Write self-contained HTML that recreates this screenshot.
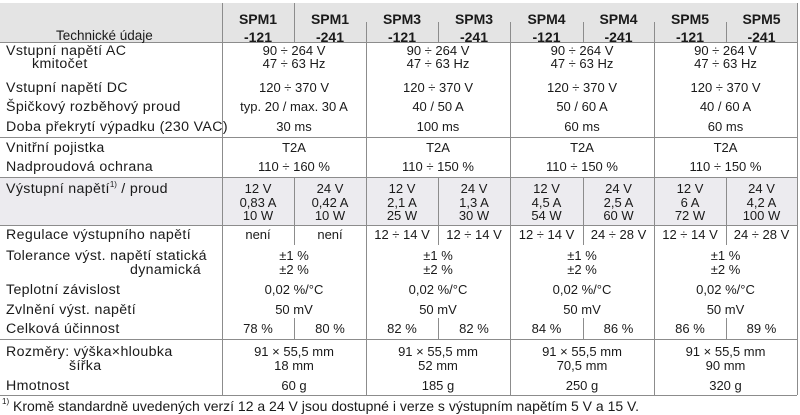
<!DOCTYPE html>
<html><head><meta charset="utf-8"><style>
body{margin:0;width:800px;height:415px;background:#fff;position:relative;overflow:hidden;font-family:"Liberation Sans",Arial,sans-serif;font-size:13px;color:#1a1a1a}
div{position:absolute}
.t{height:16px;line-height:16px;white-space:nowrap;text-align:center}
.o{line-height:13.5px}
.l{height:16px;line-height:16px;white-space:nowrap;left:6px;font-size:14.2px;letter-spacing:0.35px}
.h{background:#8c8c8c;height:1px}
.v{background:#8c8c8c;width:1px}
.b{font-weight:bold;font-size:14px}
sup{font-size:8px;vertical-align:top;line-height:8px;letter-spacing:0}
</style></head><body>
<div style="left:0;top:3px;width:797px;height:39px;background:#e4e4e4"></div>
<div style="left:0;top:177px;width:797px;height:48px;background:#ecebef"></div>

<div class="h" style="left:0;top:42px;width:797px"></div>
<div class="h" style="left:0;top:137px;width:797px"></div>
<div class="h" style="left:0;top:177px;width:797px"></div>
<div class="h" style="left:0;top:225px;width:797px"></div>
<div class="h" style="left:0;top:339px;width:797px"></div>
<div class="h" style="left:0;top:395px;width:797px"></div>

<div class="v" style="left:222px;top:3px;height:392px"></div>
<div class="v" style="left:366px;top:22px;height:373px"></div>
<div class="v" style="left:510px;top:22px;height:373px"></div>
<div class="v" style="left:654px;top:22px;height:373px"></div>
<div class="v" style="left:797px;top:3px;height:392px"></div>
<div class="v" style="left:294px;top:3px;height:39px"></div>
<div class="v" style="left:438px;top:22px;height:20px"></div>
<div class="v" style="left:583px;top:22px;height:20px"></div>
<div class="v" style="left:726px;top:22px;height:20px"></div>
<div class="v" style="left:294px;top:177px;height:68px"></div>
<div class="v" style="left:438px;top:177px;height:68px"></div>
<div class="v" style="left:583px;top:177px;height:68px"></div>
<div class="v" style="left:726px;top:177px;height:68px"></div>
<div class="v" style="left:294px;top:318px;height:21px"></div>
<div class="v" style="left:438px;top:318px;height:21px"></div>
<div class="v" style="left:583px;top:318px;height:21px"></div>
<div class="v" style="left:726px;top:318px;height:21px"></div>

<div class="l" style="left:56px;top:28px;font-size:13.5px;letter-spacing:0">Technické údaje</div>
<div class="t b" style="left:222px;width:72px;top:11px">SPM1</div>
<div class="t b" style="left:294px;width:72px;top:11px">SPM1</div>
<div class="t b" style="left:366px;width:72px;top:11px">SPM3</div>
<div class="t b" style="left:438px;width:72px;top:11px">SPM3</div>
<div class="t b" style="left:510px;width:73px;top:11px">SPM4</div>
<div class="t b" style="left:583px;width:71px;top:11px">SPM4</div>
<div class="t b" style="left:654px;width:72px;top:11px">SPM5</div>
<div class="t b" style="left:726px;width:71px;top:11px">SPM5</div>
<div class="t b" style="left:222px;width:72px;top:29px">-121</div>
<div class="t b" style="left:294px;width:72px;top:29px">-241</div>
<div class="t b" style="left:366px;width:72px;top:29px">-121</div>
<div class="t b" style="left:438px;width:72px;top:29px">-241</div>
<div class="t b" style="left:510px;width:73px;top:29px">-121</div>
<div class="t b" style="left:583px;width:71px;top:29px">-241</div>
<div class="t b" style="left:654px;width:72px;top:29px">-121</div>
<div class="t b" style="left:726px;width:71px;top:29px">-241</div>

<div class="l" style="top:43px">Vstupní napětí AC</div>
<div class="l" style="top:56px;left:32px">kmitočet</div>
<div class="l" style="top:80px">Vstupní napětí DC</div>
<div class="l" style="top:99px">Špičkový rozběhový proud</div>
<div class="l" style="top:119px">Doba překrytí výpadku (230 VAC)</div>
<div class="l" style="top:140px">Vnitřní pojistka</div>
<div class="l" style="top:159px">Nadproudová ochrana</div>
<div class="l" style="top:181px">Výstupní napětí<sup>1)</sup> / proud</div>
<div class="l" style="top:227px">Regulace výstupního napětí</div>
<div class="l" style="top:248px">Tolerance výst. napětí statická</div>
<div class="l" style="top:262px;left:130px">dynamická</div>
<div class="l" style="top:282px">Teplotní závislost</div>
<div class="l" style="top:302px">Zvlnění výst. napětí</div>
<div class="l" style="top:321px">Celková účinnost</div>
<div class="l" style="top:344px">Rozměry: výška×hloubka</div>
<div class="l" style="top:358px;left:69px">šířka</div>
<div class="l" style="top:378px">Hmotnost</div>
<div class="l" style="top:398px;left:2px;font-size:14px;letter-spacing:0">
<sup>1)</sup> Kromě standardně uvedených verzí 12 a 24 V jsou dostupné i verze s výstupním napětím 5 V a 15 V.</div>

<div class="t" style="left:222px;width:144px;top:43px">90 ÷ 264 V</div>
<div class="t" style="left:222px;width:144px;top:56px">47 ÷ 63 Hz</div>
<div class="t" style="left:222px;width:144px;top:80px">120 ÷ 370 V</div>
<div class="t" style="left:222px;width:144px;top:99px">typ. 20 / max. 30 A</div>
<div class="t" style="left:222px;width:144px;top:119px">30 ms</div>
<div class="t" style="left:222px;width:144px;top:140px">T2A</div>
<div class="t" style="left:222px;width:144px;top:159px">110 ÷ 160 %</div>
<div class="t o" style="left:222px;width:72px;top:182px">12 V<br>0,83 A<br>10 W</div>
<div class="t o" style="left:294px;width:72px;top:182px">24 V<br>0,42 A<br>10 W</div>
<div class="t" style="left:222px;width:72px;top:227px">není</div>
<div class="t" style="left:294px;width:72px;top:227px">není</div>
<div class="t" style="left:222px;width:144px;top:248px">±1 %</div>
<div class="t" style="left:222px;width:144px;top:262px">±2 %</div>
<div class="t" style="left:222px;width:144px;top:282px">0,02 %/°C</div>
<div class="t" style="left:222px;width:144px;top:302px">50 mV</div>
<div class="t" style="left:222px;width:72px;top:321px">78 %</div>
<div class="t" style="left:294px;width:72px;top:321px">80 %</div>
<div class="t" style="left:222px;width:144px;top:344px">91 × 55,5 mm</div>
<div class="t" style="left:222px;width:144px;top:358px">18 mm</div>
<div class="t" style="left:222px;width:144px;top:378px">60 g</div>

<div class="t" style="left:366px;width:144px;top:43px">90 ÷ 264 V</div>
<div class="t" style="left:366px;width:144px;top:56px">47 ÷ 63 Hz</div>
<div class="t" style="left:366px;width:144px;top:80px">120 ÷ 370 V</div>
<div class="t" style="left:366px;width:144px;top:99px">40 / 50 A</div>
<div class="t" style="left:366px;width:144px;top:119px">100 ms</div>
<div class="t" style="left:366px;width:144px;top:140px">T2A</div>
<div class="t" style="left:366px;width:144px;top:159px">110 ÷ 150 %</div>
<div class="t o" style="left:366px;width:72px;top:182px">12 V<br>2,1 A<br>25 W</div>
<div class="t o" style="left:438px;width:72px;top:182px">24 V<br>1,3 A<br>30 W</div>
<div class="t" style="left:366px;width:72px;top:227px">12 ÷ 14 V</div>
<div class="t" style="left:438px;width:72px;top:227px">12 ÷ 14 V</div>
<div class="t" style="left:366px;width:144px;top:248px">±1 %</div>
<div class="t" style="left:366px;width:144px;top:262px">±2 %</div>
<div class="t" style="left:366px;width:144px;top:282px">0,02 %/°C</div>
<div class="t" style="left:366px;width:144px;top:302px">50 mV</div>
<div class="t" style="left:366px;width:72px;top:321px">82 %</div>
<div class="t" style="left:438px;width:72px;top:321px">82 %</div>
<div class="t" style="left:366px;width:144px;top:344px">91 × 55,5 mm</div>
<div class="t" style="left:366px;width:144px;top:358px">52 mm</div>
<div class="t" style="left:366px;width:144px;top:378px">185 g</div>

<div class="t" style="left:510px;width:144px;top:43px">90 ÷ 264 V</div>
<div class="t" style="left:510px;width:144px;top:56px">47 ÷ 63 Hz</div>
<div class="t" style="left:510px;width:144px;top:80px">120 ÷ 370 V</div>
<div class="t" style="left:510px;width:144px;top:99px">50 / 60 A</div>
<div class="t" style="left:510px;width:144px;top:119px">60 ms</div>
<div class="t" style="left:510px;width:144px;top:140px">T2A</div>
<div class="t" style="left:510px;width:144px;top:159px">110 ÷ 150 %</div>
<div class="t o" style="left:510px;width:73px;top:182px">12 V<br>4,5 A<br>54 W</div>
<div class="t o" style="left:583px;width:71px;top:182px">24 V<br>2,5 A<br>60 W</div>
<div class="t" style="left:510px;width:73px;top:227px">12 ÷ 14 V</div>
<div class="t" style="left:583px;width:71px;top:227px">24 ÷ 28 V</div>
<div class="t" style="left:510px;width:144px;top:248px">±1 %</div>
<div class="t" style="left:510px;width:144px;top:262px">±2 %</div>
<div class="t" style="left:510px;width:144px;top:282px">0,02 %/°C</div>
<div class="t" style="left:510px;width:144px;top:302px">50 mV</div>
<div class="t" style="left:510px;width:73px;top:321px">84 %</div>
<div class="t" style="left:583px;width:71px;top:321px">86 %</div>
<div class="t" style="left:510px;width:144px;top:344px">91 × 55,5 mm</div>
<div class="t" style="left:510px;width:144px;top:358px">70,5 mm</div>
<div class="t" style="left:510px;width:144px;top:378px">250 g</div>

<div class="t" style="left:654px;width:143px;top:43px">90 ÷ 264 V</div>
<div class="t" style="left:654px;width:143px;top:56px">47 ÷ 63 Hz</div>
<div class="t" style="left:654px;width:143px;top:80px">120 ÷ 370 V</div>
<div class="t" style="left:654px;width:143px;top:99px">40 / 60 A</div>
<div class="t" style="left:654px;width:143px;top:119px">60 ms</div>
<div class="t" style="left:654px;width:143px;top:140px">T2A</div>
<div class="t" style="left:654px;width:143px;top:159px">110 ÷ 150 %</div>
<div class="t o" style="left:654px;width:72px;top:182px">12 V<br>6 A<br>72 W</div>
<div class="t o" style="left:726px;width:71px;top:182px">24 V<br>4,2 A<br>100 W</div>
<div class="t" style="left:654px;width:72px;top:227px">12 ÷ 14 V</div>
<div class="t" style="left:726px;width:71px;top:227px">24 ÷ 28 V</div>
<div class="t" style="left:654px;width:143px;top:248px">±1 %</div>
<div class="t" style="left:654px;width:143px;top:262px">±2 %</div>
<div class="t" style="left:654px;width:143px;top:282px">0,02 %/°C</div>
<div class="t" style="left:654px;width:143px;top:302px">50 mV</div>
<div class="t" style="left:654px;width:72px;top:321px">86 %</div>
<div class="t" style="left:726px;width:71px;top:321px">89 %</div>
<div class="t" style="left:654px;width:143px;top:344px">91 × 55,5 mm</div>
<div class="t" style="left:654px;width:143px;top:358px">90 mm</div>
<div class="t" style="left:654px;width:143px;top:378px">320 g</div>
</body></html>
